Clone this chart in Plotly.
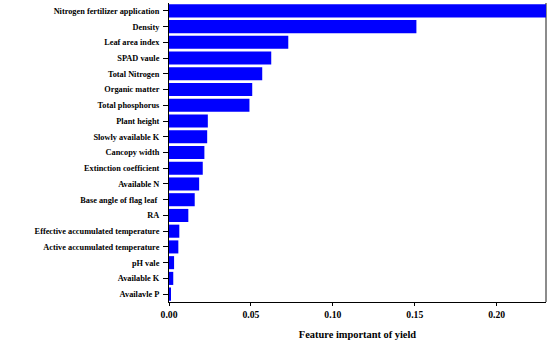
import plotly.graph_objects as go

features = [
    "Nitrogen fertilizer application", "Density", "Leaf area index", "SPAD vaule",
    "Total Nitrogen", "Organic matter", "Total phosphorus", "Plant height",
    "Slowly available K", "Cancopy width", "Extinction coefficient", "Available N",
    "Base angle of flag leaf ", "RA", "Effective accumulated temperature",
    "Active accumulated temperature", "pH vale", "Available K", "Availavle P",
]
importance = [
    0.232, 0.151, 0.0728, 0.0624, 0.0569, 0.0508, 0.0491, 0.0237, 0.0233, 0.0216,
    0.0206, 0.0184, 0.0157, 0.0118, 0.0063, 0.0057, 0.0031, 0.0026, 0.0008,
]
x_ticks = [0.0, 0.05, 0.10, 0.15, 0.20]
x_tick_labels = ["0.00", "0.05", "0.10", "0.15", "0.20"]
x_title = "Feature important of yield"

font_family = "Liberation Serif"

fig = go.Figure(go.Bar(
    x=importance,
    y=features,
    orientation="h",
    marker=dict(color="#0000FF", line=dict(width=0)),
    width=0.83,
))

fig.update_layout(
    width=550, height=343,
    margin=dict(l=169, r=4, t=3, b=41, autoexpand=False),
    paper_bgcolor="white", plot_bgcolor="white",
    showlegend=False,
    font=dict(family=font_family, color="black", size=10),
    xaxis=dict(
        range=[0, 0.2301],
        tickvals=x_ticks, ticktext=x_tick_labels,
        tickfont=dict(family=font_family, size=9.7, color="black", weight="bold"),
        showline=True, linecolor="black", linewidth=1,
        showgrid=False, zeroline=False, automargin=False,
        ticks="outside", ticklen=3, tickcolor="black", tickwidth=1,
        title=dict(text="<b>" + x_title + "</b>",
                   font=dict(family=font_family, size=10.4, color="black"),
                   standoff=12),
    ),
    yaxis=dict(
        categoryorder="array", categoryarray=features[::-1],
        range=[-0.5, len(features) - 0.5],
        tickfont=dict(family=font_family, size=8.3, color="black", weight="bold"),
        showline=True, linecolor="black", linewidth=1,
        showgrid=False, zeroline=False, automargin=False,
        ticks="outside", ticklen=5, tickcolor="black", tickwidth=1,
        ticklabelstandoff=2,
    ),
    shapes=[dict(type="line", xref="paper", yref="paper", x0=1, x1=1, y0=0, y1=1,
                 line=dict(color="#666666", width=1.5), layer="below")],
)

fig.write_html(
    "out.html",
    config={"displayModeBar": False},
    post_script="document.body.style.margin='0';document.body.style.overflow='hidden';",
)
